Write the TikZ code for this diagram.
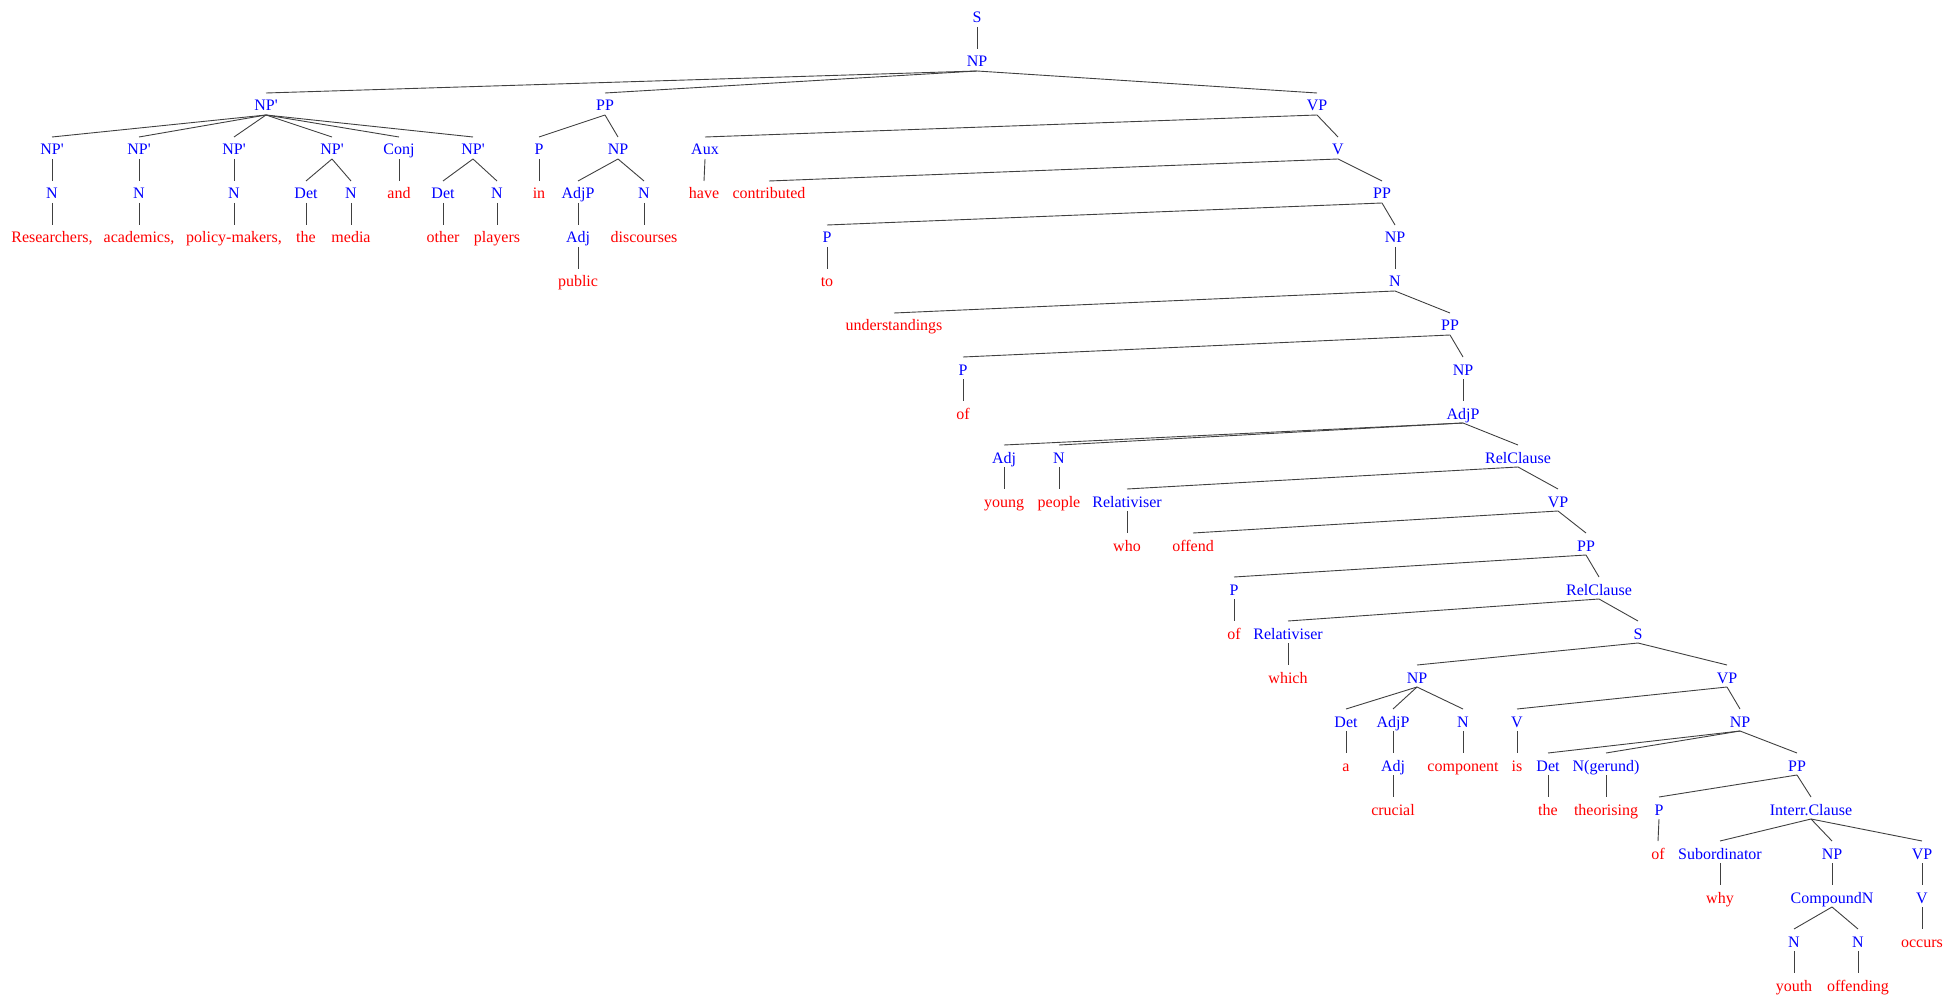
\documentclass[tikz,border=0pt]{standalone}
\usepackage{fontspec}
\setmainfont{Liberation Serif}
\usetikzlibrary{calc}
\begin{document}
\begin{tikzpicture}[x=1pt,y=-1pt,
  nt/.style={text={rgb,255:red,0;green,0;blue,255}, anchor=base, inner sep=0pt, font=\fontsize{16}{19}\selectfont},
  lf/.style={nt, text={rgb,255:red,255;green,0;blue,0}},
  edgeline/.style={draw=black!75, line width=0.9pt}]
\useasboundingbox (0,0) rectangle (1955,1000);
% row 0-2
\node[nt] (S0) at (977,23) {S};
\node[nt] (NP1) at (977,67) {NP};
\node[nt] (NPa) at (266,111) {NP\textquotesingle};
\node[nt] (PPa) at (605,111) {PP};
\node[nt] (VPa) at (1317,111) {VP};
% row 3
\node[nt] (NPb1) at (52,155) {NP\textquotesingle};
\node[nt] (NPb2) at (139,155) {NP\textquotesingle};
\node[nt] (NPb3) at (234,155) {NP\textquotesingle};
\node[nt] (NPb4) at (332,155) {NP\textquotesingle};
\node[nt] (Conj) at (399,155) {Conj};
\node[nt] (NPb5) at (473,155) {NP\textquotesingle};
\node[nt] (Pa) at (539,155) {P};
\node[nt] (NPc) at (618,155) {NP};
\node[nt] (Aux) at (705,155) {Aux};
\node[nt] (Va) at (1338,155) {V};
% row 4
\node[nt] (Na1) at (52,199) {N};
\node[nt] (Na2) at (139,199) {N};
\node[nt] (Na3) at (234,199) {N};
\node[nt] (Deta) at (306,199) {Det};
\node[nt] (Na4) at (351,199) {N};
\node[lf] (wand) at (399,199) {and};
\node[nt] (Detb) at (443,199) {Det};
\node[nt] (Na5) at (497,199) {N};
\node[lf] (win) at (539,199) {in};
\node[nt] (AdjPa) at (578,199) {AdjP};
\node[nt] (Nb) at (644,199) {N};
\node[lf] (whave) at (704,199) {have};
\node[lf] (wcontributed) at (769,199) {contributed};
\node[nt] (PPb) at (1382,199) {PP};
% row 5
\node[lf] (wres) at (52,243) {Researchers,};
\node[lf] (wacad) at (139,243) {academics,};
\node[lf] (wpol) at (234,243) {policy-makers,};
\node[lf] (wthe) at (306,243) {the};
\node[lf] (wmedia) at (351,243) {media};
\node[lf] (wother) at (443,243) {other};
\node[lf] (wplayers) at (497,243) {players};
\node[nt] (Adja) at (578,243) {Adj};
\node[lf] (wdisc) at (644,243) {discourses};
\node[nt] (Pb) at (827,243) {P};
\node[nt] (NPd) at (1395,243) {NP};
% row 6
\node[lf] (wpublic) at (578,287) {public};
\node[lf] (wto) at (827,287) {to};
\node[nt] (Nc) at (1395,287) {N};
% row 7
\node[lf] (wund) at (894,331) {understandings};
\node[nt] (PPc) at (1450,331) {PP};
% row 8
\node[nt] (Pc) at (963,375) {P};
\node[nt] (NPe) at (1463,375) {NP};
% row 9
\node[lf] (wof) at (963,419) {of};
\node[nt] (AdjPb) at (1463,419) {AdjP};
% row 10
\node[nt] (Adjb) at (1004,463) {Adj};
\node[nt] (Nd) at (1059,463) {N};
\node[nt] (RelA) at (1518,463) {RelClause};
% row 11
\node[lf] (wyoung) at (1004,507) {young};
\node[lf] (wpeople) at (1059,507) {people};
\node[nt] (RelvA) at (1127,507) {Relativiser};
\node[nt] (VPb) at (1558,507) {VP};
% row 12
\node[lf] (wwho) at (1127,551) {who};
\node[lf] (woffend) at (1193,551) {offend};
\node[nt] (PPd) at (1586,551) {PP};
% row 13
\node[nt] (Pd) at (1234,595) {P};
\node[nt] (RelB) at (1599,595) {RelClause};
% row 14
\node[lf] (wof2) at (1234,639) {of};
\node[nt] (RelvB) at (1288,639) {Relativiser};
\node[nt] (Sb) at (1638,639) {S};
% row 15
\node[lf] (wwhich) at (1288,683) {which};
\node[nt] (NPf) at (1417,683) {NP};
\node[nt] (VPc) at (1727,683) {VP};
% row 16
\node[nt] (Detc) at (1346,727) {Det};
\node[nt] (AdjPc) at (1393,727) {AdjP};
\node[nt] (Ne) at (1463,727) {N};
\node[nt] (Vb) at (1517,727) {V};
\node[nt] (NPg) at (1740,727) {NP};
% row 17
\node[lf] (wa) at (1346,771) {a};
\node[nt] (Adjc) at (1393,771) {Adj};
\node[lf] (wcomp) at (1463,771) {component};
\node[lf] (wis) at (1517,771) {is};
\node[nt] (Detd) at (1548,771) {Det};
\node[nt] (Nger) at (1606,771) {N(gerund)};
\node[nt] (PPe) at (1797,771) {PP};
% row 18
\node[lf] (wcrucial) at (1393,815) {crucial};
\node[lf] (wthe2) at (1548,815) {the};
\node[lf] (wtheor) at (1606,815) {theorising};
\node[nt] (Pe) at (1659,815) {P};
\node[nt] (Interr) at (1811,815) {Interr.Clause};
% row 19
\node[lf] (wof3) at (1658,859) {of};
\node[nt] (Subord) at (1720,859) {Subordinator};
\node[nt] (NPh) at (1832,859) {NP};
\node[nt] (VPd) at (1922,859) {VP};
% row 20
\node[lf] (wwhy) at (1720,903) {why};
\node[nt] (CompN) at (1832,903) {CompoundN};
\node[nt] (Vc) at (1922,903) {V};
% row 21
\node[nt] (Nf) at (1794,947) {N};
\node[nt] (Ng) at (1858,947) {N};
\node[lf] (woccurs) at (1922,947) {occurs};
% row 22
\node[lf] (wyouth) at (1794,991) {youth};
\node[lf] (woffending) at (1858,991) {offending};
% edges
\foreach \a/\b in {S0/NP1, NP1/NPa, NP1/PPa, NP1/VPa,
  NPa/NPb1, NPa/NPb2, NPa/NPb3, NPa/NPb4, NPa/Conj, NPa/NPb5,
  NPb1/Na1, NPb2/Na2, NPb3/Na3, NPb4/Deta, NPb4/Na4, Conj/wand, NPb5/Detb, NPb5/Na5,
  Na1/wres, Na2/wacad, Na3/wpol, Deta/wthe, Na4/wmedia, Detb/wother, Na5/wplayers,
  PPa/Pa, PPa/NPc, Pa/win, NPc/AdjPa, NPc/Nb, AdjPa/Adja, Adja/wpublic, Nb/wdisc,
  VPa/Aux, VPa/Va, Aux/whave, Va/wcontributed, Va/PPb,
  PPb/Pb, PPb/NPd, Pb/wto, NPd/Nc, Nc/wund, Nc/PPc,
  PPc/Pc, PPc/NPe, Pc/wof, NPe/AdjPb,
  AdjPb/Adjb, AdjPb/Nd, AdjPb/RelA, Adjb/wyoung, Nd/wpeople,
  RelA/RelvA, RelA/VPb, RelvA/wwho, VPb/woffend, VPb/PPd,
  PPd/Pd, PPd/RelB, Pd/wof2, RelB/RelvB, RelB/Sb, RelvB/wwhich,
  Sb/NPf, Sb/VPc, NPf/Detc, NPf/AdjPc, NPf/Ne, Detc/wa, AdjPc/Adjc, Adjc/wcrucial, Ne/wcomp,
  VPc/Vb, VPc/NPg, Vb/wis, NPg/Detd, NPg/Nger, NPg/PPe, Detd/wthe2, Nger/wtheor,
  PPe/Pe, PPe/Interr, Pe/wof3, Interr/Subord, Interr/NPh, Interr/VPd,
  Subord/wwhy, NPh/CompN, VPd/Vc, CompN/Nf, CompN/Ng, Vc/woccurs, Nf/wyouth, Ng/woffending}
  \draw[edgeline] ($(\a.base)+(0,4)$) -- ($(\b.base)+(0,-18)$);
\end{tikzpicture}
\end{document}
